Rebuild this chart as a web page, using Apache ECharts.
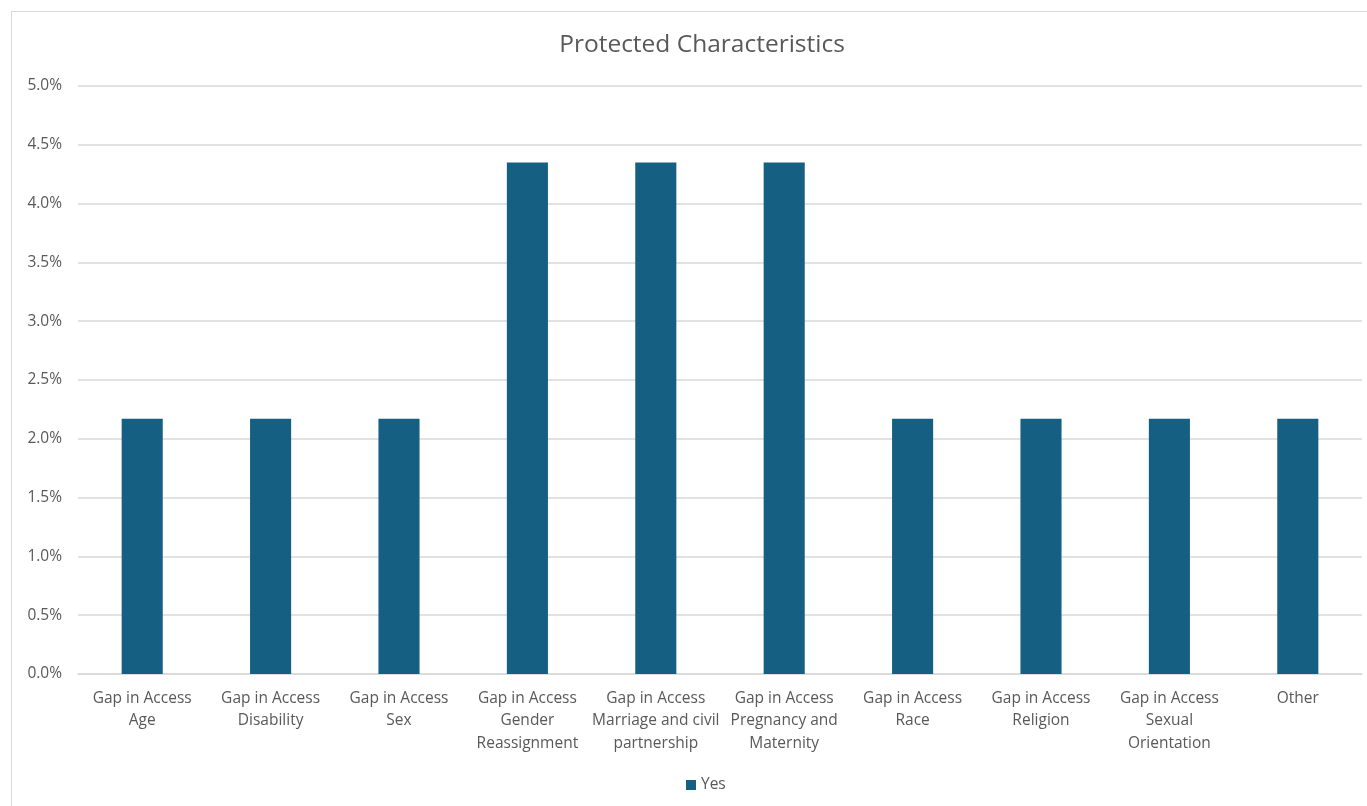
<!DOCTYPE html>
<html>
<head>
<meta charset="utf-8">
<script src="https://cdn.jsdelivr.net/npm/echarts@6/dist/echarts.min.js"></script>
<style>
html,body{margin:0;padding:0;background:#fff;}
#frame{position:absolute;left:11px;top:11px;width:1380px;height:820px;border:1px solid #d9d9d9;box-sizing:border-box;}
#chart{position:absolute;left:0;top:0;width:1367px;height:806px;}
</style>
</head>
<body>
<div id="frame"></div>
<div id="chart"></div>
<script>
const categories = [
  "Gap in Access\nAge",
  "Gap in Access\nDisability",
  "Gap in Access\nSex",
  "Gap in Access\nGender\nReassignment",
  "Gap in Access\nMarriage and civil\npartnership",
  "Gap in Access\nPregnancy and\nMaternity",
  "Gap in Access\nRace",
  "Gap in Access\nReligion",
  "Gap in Access\nSexual\nOrientation",
  "Other"
];
const yesValues = [0.0217, 0.0217, 0.0217, 0.0435, 0.0435, 0.0435, 0.0217, 0.0217, 0.0217, 0.0217];
const seriesName = "Yes";
const titleText = "Protected Characteristics";

const chart = echarts.init(document.getElementById('chart'));
const font = "'Open Sans', Lato, sans-serif";
chart.setOption({
  animation: false,
  textStyle: {fontFamily: font},
  title: {
    text: titleText, left: 697, top: 28, textAlign: 'center',
    textStyle: {fontFamily: font, fontSize: 24.5, fontWeight: 'normal', color: '#595959'}
  },
  legend: {
    data: [seriesName], top: 772, itemWidth: 10, itemHeight: 10, itemGap: 6,
    icon: 'rect',
    textStyle: {fontFamily: font, fontSize: 15.5, color: '#595959'},
    left: 681
  },
  grid: {left: 78, right: 5, top: 86, bottom: 132, containLabel: false},
  xAxis: {
    type: 'category', data: categories,
    axisLine: {lineStyle: {color: '#d9d9d9', width: 1.5}},
    axisTick: {show: false},
    axisLabel: {color: '#595959', fontSize: 15.5, lineHeight: 22.5, margin: 13, interval: 0, fontFamily: font}
  },
  yAxis: {
    type: 'value', min: 0, max: 0.05, interval: 0.005,
    axisLine: {show: false}, axisTick: {show: false},
    splitLine: {lineStyle: {color: '#d9d9d9', width: 1.5}},
    axisLabel: {color: '#595959', fontSize: 15.5, margin: 16, fontFamily: font,
      formatter: v => (v * 100).toFixed(1) + '%'}
  },
  series: [{
    name: seriesName, type: 'bar', data: yesValues, barWidth: '32%',
    itemStyle: {color: '#156082'}
  }]
});
</script>
</body>
</html>
